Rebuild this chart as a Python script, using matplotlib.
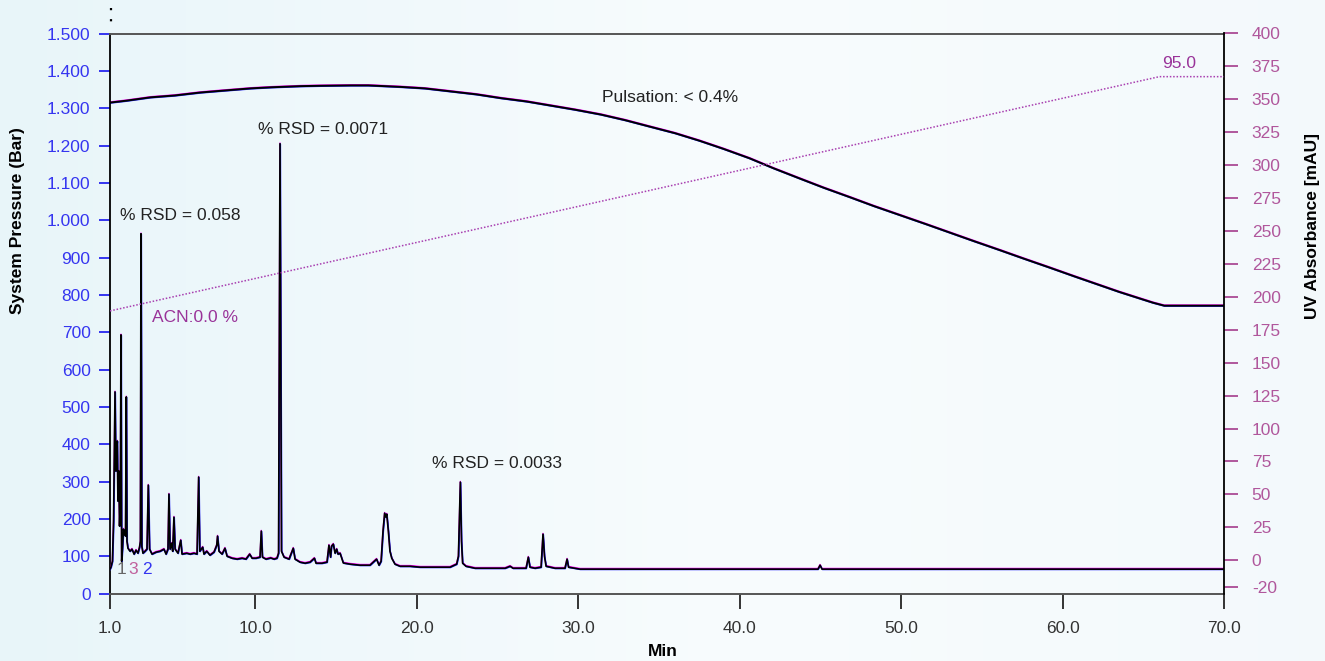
import numpy as np
import matplotlib
matplotlib.use("Agg")
import matplotlib.pyplot as plt
from matplotlib import transforms
from matplotlib.lines import Line2D

plt.rcParams['font.family'] = ['Liberation Sans', 'DejaVu Sans']

# ---------------- data ----------------
x_ticks = [1.0, 10.0, 20.0, 30.0, 40.0, 50.0, 60.0, 70.0]
x_tick_labels = ['1.0', '10.0', '20.0', '30.0', '40.0', '50.0', '60.0', '70.0']

p_ticks = list(range(0, 1600, 100))
p_tick_labels = ['0', '100', '200', '300', '400', '500', '600', '700', '800', '900',
                 '1.000', '1.100', '1.200', '1.300', '1.400', '1.500']

uv_ticks = [-20, 0, 25, 50, 75, 100, 125, 150, 175, 200, 225, 250, 275, 300, 325, 350, 375, 400]
uv_tick_labels = [str(v) for v in uv_ticks]

# system pressure (bar) vs time (min)
pressure_t = [1.0, 2.0, 3.5, 5.0, 6.6, 8.0, 9.7, 11.0, 12.8, 14.0, 15.9, 17.0, 19.0, 20.5,
              22.1, 23.7, 25.2, 26.8, 28.3, 29.8, 31.4, 32.9, 34.4, 36.0, 37.5, 39.0,
              40.6, 42.1, 43.7, 45.2, 46.8, 48.3, 49.9, 51.5, 53.0, 54.5, 56.1, 57.6,
              59.2, 60.7, 62.3, 63.5, 64.8, 65.6, 66.3, 70.0]
pressure_bar = [1315, 1320, 1329, 1334, 1342, 1347, 1353, 1356, 1359, 1360, 1361, 1361, 1357, 1353,
                1345, 1337, 1327, 1318, 1307, 1296, 1283, 1268, 1251, 1233, 1213, 1191,
                1166, 1139, 1112, 1087, 1062, 1038, 1014, 990, 967, 944, 920, 897,
                873, 850, 826, 808, 790, 779, 771, 771]

# gradient (% ACN)
grad_t = [1.0, 66.0, 70.0]
grad_acn = [0.0, 95.0, 95.0]

# UV chromatogram (mAU) vs time (min)
uv_t = [1.00, 1.06, 1.15, 1.22, 1.31, 1.36, 1.40, 1.45, 1.49, 1.54, 1.59, 1.64, 1.68, 1.72,
        1.77, 1.83, 1.90, 1.96, 2.01, 2.05, 2.11, 2.24, 2.36, 2.49, 2.61, 2.73, 2.83, 2.88,
        2.92, 2.97, 3.04, 3.17, 3.29, 3.37, 3.45, 3.60, 3.85, 4.10, 4.34, 4.47, 4.59, 4.65,
        4.72, 4.82, 4.88, 4.96, 5.03, 5.21, 5.38, 5.46, 5.75, 5.96, 6.20, 6.39, 6.49, 6.56,
        6.74, 6.82, 6.99, 7.19, 7.44, 7.61, 7.66, 7.75, 7.94, 8.12, 8.25, 8.56, 8.87, 9.18,
        9.42, 9.65, 9.80, 10.04, 10.29, 10.37, 10.44, 10.66, 10.95, 11.16, 11.34, 11.44, 11.53,
        11.62, 11.78, 11.94, 12.09, 12.35, 12.46, 12.77, 13.08, 13.39, 13.66, 13.76, 14.13,
        14.44, 14.56, 14.66, 14.72, 14.83, 14.94, 15.04, 15.12, 15.25, 15.45, 15.87, 16.48,
        17.10, 17.51, 17.66, 17.79, 17.91, 18.01, 18.09, 18.14, 18.24, 18.34, 18.45, 18.65,
        18.96, 19.58, 20.20, 20.82, 21.44, 22.06, 22.47, 22.58, 22.70, 22.77, 22.84, 23.05,
        23.61, 24.54, 25.47, 25.78, 25.96, 26.39, 26.77, 26.91, 27.01, 27.32, 27.70, 27.82,
        27.91, 28.01, 28.56, 29.18, 29.31, 29.40, 30.11, 32.59, 37.54, 42.50, 44.85, 44.98,
        45.10, 49.93, 56.13, 62.32, 70.00]
uv_mau = [-6.8, -5.3, -0.8, 29.7, 127.8, 67.7, 86.7, 90.5, 44.9, 67.7, 25.9, 44.9, 171.1, -0.8,
          8.4, 23.6, 20.5, 18.3, 124.0, 14.4, 9.1, 6.8, 8.4, 4.6, 7.6, 5.3, 9.9, 14.4,
          247.9, 10.6, 5.3, 6.8, 8.4, 57.0, 8.4, 4.6, 6.1, 6.8, 8.4, 4.6, 8.4, 50.2,
          8.4, 12.9, 6.8, 32.7, 8.4, 5.3, 15.2, 4.6, 5.3, 4.6, 5.3, 4.6, 63.1, 6.8,
          9.9, 4.6, 6.8, 3.8, 6.1, 11.4, 18.3, 6.8, 4.6, 9.1, 3.0, 1.5, 0.8, 1.5,
          0.8, 4.6, 1.5, 1.5, 2.3, 22.1, 2.3, 0.8, 1.7, 0.8, 1.5, 5.3, 316.3,
          6.8, 2.3, 1.5, 0.8, 9.1, 0.8, -1.5, -2.3, -1.5, 1.5, -2.3, -2.3,
          -1.5, 11.4, 2.3, 10.6, 12.2, 5.3, 8.4, 4.6, 5.3, -2.1, -3.0, -3.8,
          -3.8, 0.8, -3.8, -0.8, 22.1, 35.7, 32.7, 35.0, 22.1, 6.8, 1.5, -3.0,
          -4.6, -4.6, -5.3, -5.3, -5.3, -5.3, -3.0, 3.0, 59.3, 14.4, -2.3, -4.6,
          -6.1, -6.1, -6.1, -4.6, -6.1, -6.1, -6.1, 2.3, -5.3, -6.1, -5.3, 19.8,
          3.0, -4.6, -6.1, -6.1, 0.8, -5.3, -6.8, -6.8, -6.8, -6.8, -6.8, -3.8,
          -6.8, -6.8, -6.8, -6.8, -6.8]

# ---------------- figure ----------------
W, H = 1325, 661
fig = plt.figure(figsize=(W / 100, H / 100), dpi=100)

def fx(x):
    return x / W

def fy(y):
    return 1 - y / H

# background gradient
bg = fig.add_axes([0, 0, 1, 1], zorder=-10)
bg.set_axis_off()
grad = np.linspace(0, 1, 256)
c_left = np.array([0.910, 0.962, 0.978])
c_mid = np.array([0.972, 0.988, 0.994])
c_right = np.array([0.955, 0.978, 0.988])
cols = np.where(grad[:, None] < 0.55,
                c_left + (c_mid - c_left) * (grad[:, None] / 0.55),
                c_mid + (c_right - c_mid) * ((grad[:, None] - 0.55) / 0.45))
img = np.tile(cols[None, :, :], (10, 1, 1))
bg.imshow(img, aspect='auto', extent=[0, 1, 0, 1])
bg.set_xlim(0, 1)
bg.set_ylim(0, 1)

left, right = 110, 1224
top, bottom = 33.5, 593.5
ax = fig.add_axes([fx(left), fy(bottom), fx(right) - fx(left), fy(top) - fy(bottom)])
ax.patch.set_alpha(0)

blue = '#3535f0'
mauve = '#b0579c'
purple = '#a83fb0'

# pressure trace (left axis)
off_m = transforms.offset_copy(ax.transData, fig=fig, x=0.0, y=0.35, units='points')
off_b = transforms.offset_copy(ax.transData, fig=fig, x=0.3, y=-0.3, units='points')
ax.plot(pressure_t, pressure_bar, color='#ff00ff', lw=1.2, transform=off_m, zorder=2)
ax.plot(pressure_t, pressure_bar, color='#2020ff', lw=1.2, transform=off_b, zorder=2)
ax.plot(pressure_t, pressure_bar, color='black', lw=1.4, zorder=3)

ax.set_xlim(1, 70)
ax.set_ylim(0, 1500)
ax.set_xticks(x_ticks)
ax.set_xticklabels(x_tick_labels)
ax.set_yticks(p_ticks)
ax.set_yticklabels(p_tick_labels)
ax.tick_params(axis='y', direction='out', length=8, width=1.4, color=blue,
               labelcolor=blue, labelsize=12.5, pad=6)
ax.tick_params(axis='x', direction='out', length=11, width=1.4, color='#333333',
               labelcolor='#333333', labelsize=12.5, pad=9)
ax.spines['left'].set_color('black')
ax.spines['left'].set_linewidth(1.3)
ax.spines['top'].set_color('#555555')
ax.spines['top'].set_linewidth(1.4)
ax.spines['bottom'].set_color('#555555')
ax.spines['bottom'].set_linewidth(1.4)
ax.spines['right'].set_visible(False)

# UV trace (right axis)
ax2 = ax.twinx()
ax2.patch.set_alpha(0)
off2_m = transforms.offset_copy(ax2.transData, fig=fig, x=0.0, y=0.5, units='points')
off2_b = transforms.offset_copy(ax2.transData, fig=fig, x=0.3, y=-0.3, units='points')
ax2.plot(uv_t, uv_mau, color='#ff00ff', lw=1.0, transform=off2_m, zorder=2)
ax2.plot(uv_t, uv_mau, color='#2020ff', lw=1.0, transform=off2_b, zorder=2)
ax2.plot(uv_t, uv_mau, color='black', lw=1.2, zorder=3)
ax2.set_ylim(-25.3, 400)
ax2.set_yticks(uv_ticks)
ax2.set_yticklabels(uv_tick_labels)
ax2.tick_params(axis='y', direction='out', length=10, width=1.4, color=mauve,
                labelcolor=mauve, labelsize=12.5, pad=10)
ax2.spines['right'].set_color('black')
ax2.spines['right'].set_linewidth(1.3)
for s in ['left', 'top', 'bottom']:
    ax2.spines[s].set_visible(False)

# gradient (% ACN) on hidden axis
ax3 = ax.twinx()
ax3.patch.set_alpha(0)
ax3.set_axis_off()
ax3.plot(grad_t, grad_acn, color=purple, lw=1.1, linestyle=(0, (1, 1.2)))
ax3.set_ylim(-114.6, 112.5)
ax3.set_xlim(1, 70)

# dotted marker above left spine
fig.add_artist(Line2D([fx(110.7), fx(110.7)], [fy(8), fy(30)], color='black', lw=1.6,
                      linestyle=(0, (1, 4)), transform=fig.transFigure))

# annotations
txt = dict(fontsize=12.5, color='#222222', va='center', ha='left')
fig.text(fx(120), fy(215), '% RSD = 0.058', **txt)
fig.text(fx(258), fy(130), '% RSD = 0.0071', **txt)
fig.text(fx(432), fy(464), '% RSD = 0.0033', **txt)
fig.text(fx(602), fy(97), 'Pulsation: < 0.4%', **txt)
fig.text(fx(152), fy(318), 'ACN:0.0 %', fontsize=12.5, color='#993399', va='center', ha='left')
fig.text(fx(1162), fy(63), '95.0', fontsize=12.5, color='#993399', va='center', ha='left')
fig.text(fx(121.5), fy(569), '1', fontsize=12.5, color='#666666', va='center', ha='center')
fig.text(fx(133), fy(569), '3', fontsize=12.5, color='#c0609c', va='center', ha='center')
fig.text(fx(147), fy(569), '2', fontsize=12.5, color=blue, va='center', ha='center')

# axis titles
fig.text(fx(18), fy(221), 'System Pressure (Bar)', fontsize=12.5, fontweight='bold',
         rotation=90, va='center', ha='center', color='black')
fig.text(fx(1313), fy(226), 'UV Absorbance [mAU]', fontsize=12.5, fontweight='bold',
         rotation=90, va='center', ha='center', color='black')
fig.text(fx(663), fy(652), 'Min', fontsize=12.5, fontweight='bold', va='center',
         ha='center', color='black')

fig.savefig('out.png', dpi=100)
